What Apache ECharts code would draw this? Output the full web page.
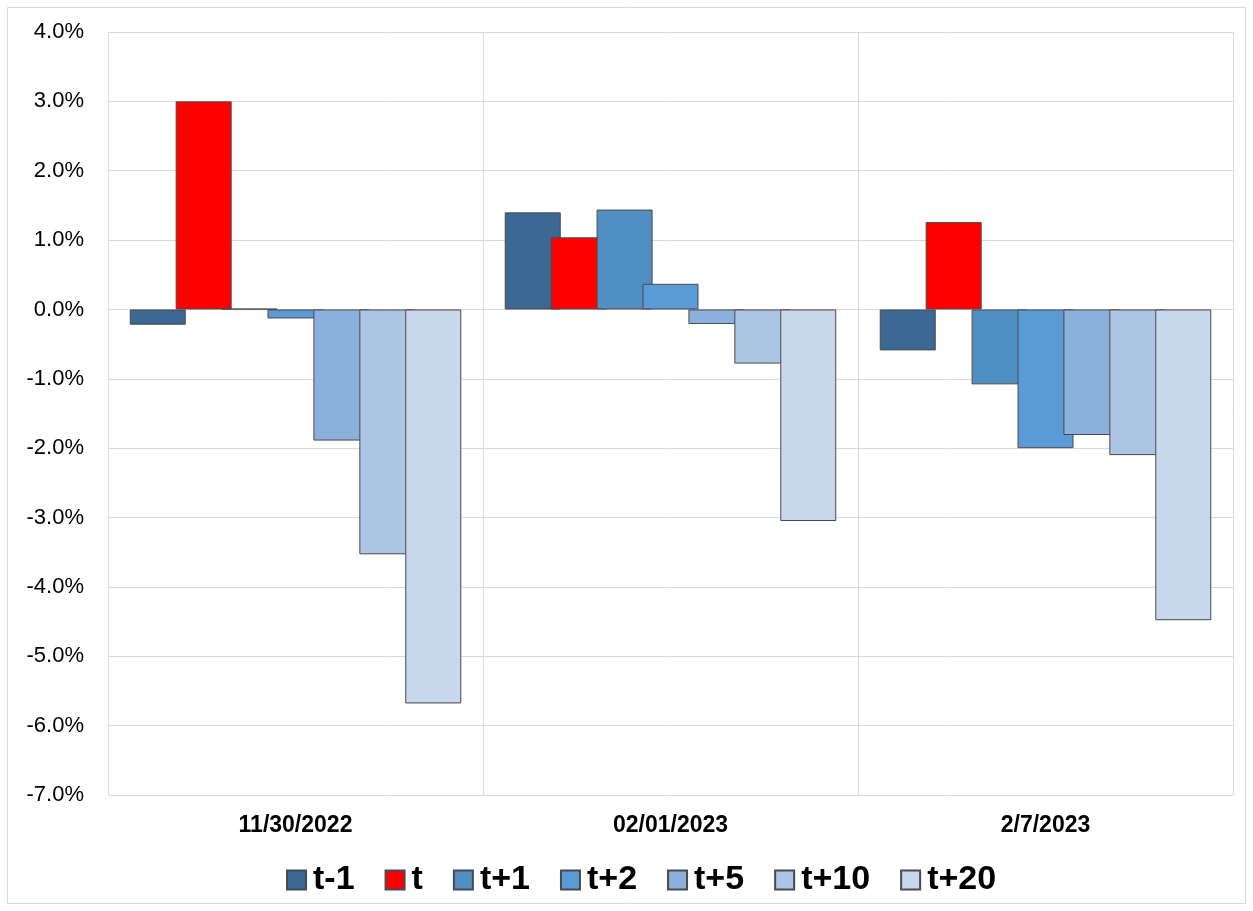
<!DOCTYPE html>
<html><head><meta charset="utf-8">
<script src="https://cdn.jsdelivr.net/npm/echarts@6/dist/echarts.min.js"></script>
<style>html,body{margin:0;padding:0;background:#fff}#c{width:1253px;height:911px}</style>
</head><body><div id="c"></div>
<script>
const categories = ['11/30/2022', '02/01/2023', '2/7/2023'];
const seriesNames = ['t-1', 't', 't+1', 't+2', 't+5', 't+10', 't+20'];
const tMinus1 = [-0.22, 1.40, -0.59];
const t0 = [3.00, 1.04, 1.26];
const tPlus1 = [0.01, 1.44, -1.08];
const tPlus2 = [-0.13, 0.37, -2.00];
const tPlus5 = [-1.89, -0.21, -1.81];
const tPlus10 = [-3.53, -0.78, -2.10];
const tPlus20 = [-5.68, -3.05, -4.48];
const seriesData = [tMinus1, t0, tPlus1, tPlus2, tPlus5, tPlus10, tPlus20];
const colors = ['#3C6894', '#FF0000', '#4F8FC2', '#5A9AD6', '#8BB0DC', '#ACC5E4', '#C7D7EC'];

const chart = echarts.init(document.getElementById('c'));
chart.setOption({
  animation: false,
  backgroundColor: '#fff',
  graphic: [{type: 'rect', shape: {x: 7.5, y: 7.5, width: 1238, height: 896}, style: {fill: 'none', stroke: '#d9d9d9', lineWidth: 1}}],
  grid: {left: 108, right: 20, top: 32, bottom: 116, containLabel: false},
  legend: {
    data: seriesNames, top: 858, left: 281, itemWidth: 19, itemHeight: 19, itemGap: 30,
    icon: 'rect',
    textStyle: {fontFamily: 'Liberation Sans, Arial', fontWeight: 'bold', fontSize: 34, color: '#000', padding: [0, 0, 0, 2]}
  },
  xAxis: {
    type: 'category', data: categories, boundaryGap: true,
    axisLine: {show: false}, axisTick: {show: false},
    splitLine: {show: true, lineStyle: {color: '#d9d9d9', width: 1}},
    axisLabel: {fontFamily: 'Liberation Sans, Arial', fontWeight: 'bold', fontSize: 23, color: '#000', margin: 19}
  },
  yAxis: {
    type: 'value', min: -7, max: 4, interval: 1,
    axisLine: {show: false}, axisTick: {show: false},
    splitLine: {show: true, lineStyle: {color: '#d9d9d9', width: 1}},
    axisLabel: {fontFamily: 'Liberation Sans, Arial', fontSize: 22, color: '#000', margin: 24,
      formatter: v => v.toFixed(1) + '%'}
  },
  series: seriesNames.map((n, i) => ({
    name: n, type: 'bar', data: seriesData[i], barWidth: 56, barGap: '-18%',
    itemStyle: {color: colors[i], borderColor: '#4a4a4a', borderWidth: 1}
  }))
});
</script></body></html>
